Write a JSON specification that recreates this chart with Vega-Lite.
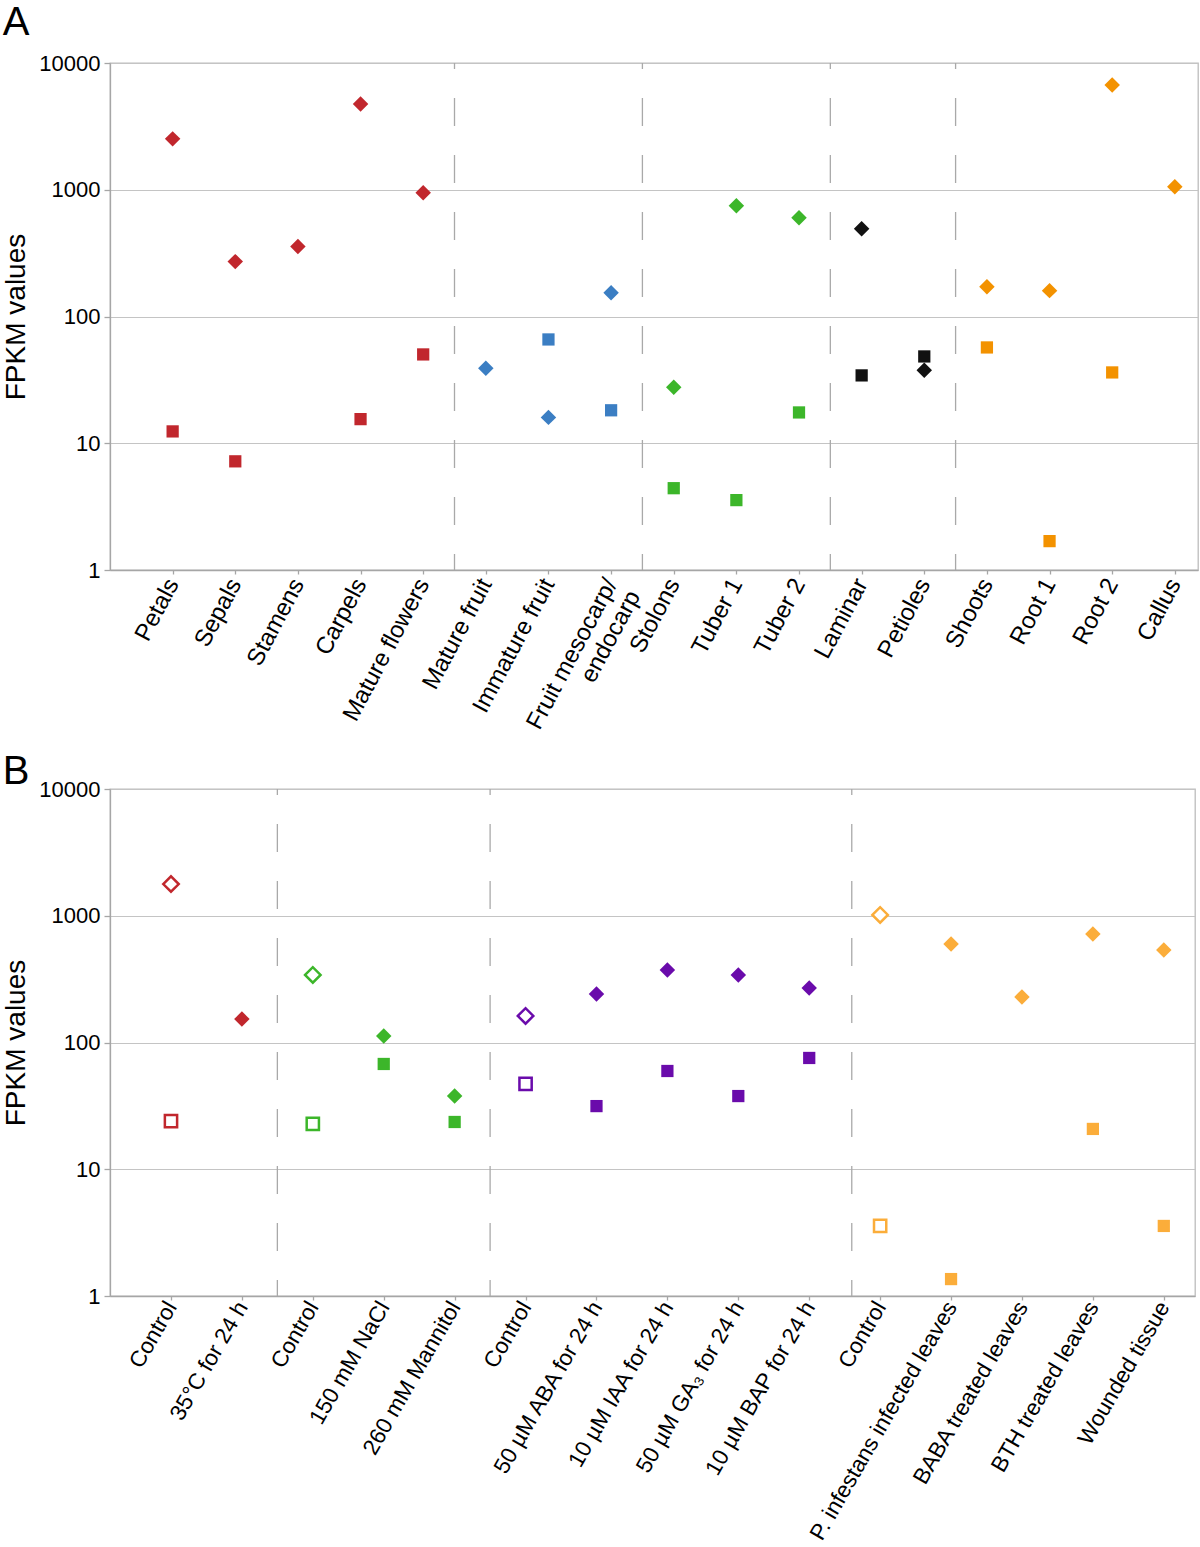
{
  "$schema": "https://vega.github.io/schema/vega-lite/v6.json",
  "background": "white",
  "padding": {"left": 2, "top": 2, "right": 0, "bottom": 0},
  "spacing": 5,
  "config": {
    "font": "Liberation Sans",
    "view": {"stroke": "#bdbdbd", "strokeWidth": 1.3},
    "axis": {
      "labelFont": "Liberation Sans", "titleFont": "Liberation Sans",
      "labelColor": "#000000", "titleColor": "#000000",
      "domainColor": "#a6a6a6", "tickColor": "#a6a6a6", "gridColor": "#c4c4c4",
      "domainWidth": 1.3, "tickWidth": 1.3, "gridWidth": 1.2
    },
    "title": {"font": "Liberation Sans", "fontSize": 40, "fontWeight": "normal", "anchor": "start", "frame": "bounds", "color": "#000000"}
  },
  "resolve": {"scale": {"x": "independent", "y": "independent", "color": "independent", "fill": "independent", "stroke": "independent", "shape": "independent", "size": "independent", "strokeWidth": "independent"}},
  "vconcat": [
    {
      "title": {"text": "A", "offset": 9},
      "width": 1088,
      "height": 507,
      "data": {"values": [
        {"pos": 1, "sample": "Petals", "tissue": "Flower", "series": "S1", "fpkm": 2520},
        {"pos": 1, "sample": "Petals", "tissue": "Flower", "series": "S2", "fpkm": 12.4},
        {"pos": 2, "sample": "Sepals", "tissue": "Flower", "series": "S1", "fpkm": 271},
        {"pos": 2, "sample": "Sepals", "tissue": "Flower", "series": "S2", "fpkm": 7.2},
        {"pos": 3, "sample": "Stamens", "tissue": "Flower", "series": "S1", "fpkm": 356},
        {"pos": 4, "sample": "Carpels", "tissue": "Flower", "series": "S1", "fpkm": 4755},
        {"pos": 4, "sample": "Carpels", "tissue": "Flower", "series": "S2", "fpkm": 15.5},
        {"pos": 5, "sample": "Mature flowers", "tissue": "Flower", "series": "S1", "fpkm": 947},
        {"pos": 5, "sample": "Mature flowers", "tissue": "Flower", "series": "S2", "fpkm": 50.2},
        {"pos": 6, "sample": "Mature fruit", "tissue": "Fruit", "series": "S1", "fpkm": 39},
        {"pos": 7, "sample": "Immature fruit", "tissue": "Fruit", "series": "S1", "fpkm": 16.0},
        {"pos": 7, "sample": "Immature fruit", "tissue": "Fruit", "series": "S2", "fpkm": 65.9},
        {"pos": 8, "sample": "Fruit mesocarp/endocarp", "tissue": "Fruit", "series": "S1", "fpkm": 154},
        {"pos": 8, "sample": "Fruit mesocarp/endocarp", "tissue": "Fruit", "series": "S2", "fpkm": 18.2},
        {"pos": 9, "sample": "Stolons", "tissue": "Tuber", "series": "S1", "fpkm": 27.6},
        {"pos": 9, "sample": "Stolons", "tissue": "Tuber", "series": "S2", "fpkm": 4.42},
        {"pos": 10, "sample": "Tuber 1", "tissue": "Tuber", "series": "S1", "fpkm": 748},
        {"pos": 10, "sample": "Tuber 1", "tissue": "Tuber", "series": "S2", "fpkm": 3.56},
        {"pos": 11, "sample": "Tuber 2", "tissue": "Tuber", "series": "S1", "fpkm": 602},
        {"pos": 11, "sample": "Tuber 2", "tissue": "Tuber", "series": "S2", "fpkm": 17.5},
        {"pos": 12, "sample": "Laminar", "tissue": "Leaf", "series": "S1", "fpkm": 493},
        {"pos": 12, "sample": "Laminar", "tissue": "Leaf", "series": "S2", "fpkm": 34.3},
        {"pos": 13, "sample": "Petioles", "tissue": "Leaf", "series": "S1", "fpkm": 37.6},
        {"pos": 13, "sample": "Petioles", "tissue": "Leaf", "series": "S2", "fpkm": 48.4},
        {"pos": 14, "sample": "Shoots", "tissue": "Root", "series": "S1", "fpkm": 172},
        {"pos": 14, "sample": "Shoots", "tissue": "Root", "series": "S2", "fpkm": 57},
        {"pos": 15, "sample": "Root 1", "tissue": "Root", "series": "S1", "fpkm": 160},
        {"pos": 15, "sample": "Root 1", "tissue": "Root", "series": "S2", "fpkm": 1.69},
        {"pos": 16, "sample": "Root 2", "tissue": "Root", "series": "S1", "fpkm": 6714},
        {"pos": 16, "sample": "Root 2", "tissue": "Root", "series": "S2", "fpkm": 36.2},
        {"pos": 17, "sample": "Callus", "tissue": "Root", "series": "S1", "fpkm": 1056}
      ]},
      "encoding": {
        "x": {
          "field": "pos", "type": "quantitative",
          "scale": {"domain": [0, 17.37], "nice": false, "zero": false},
          "axis": {
            "title": null, "grid": false,
            "values": [1, 2, 3, 4, 5, 6, 7, 8, 9, 10, 11, 12, 13, 14, 15, 16, 17],
            "labelExpr": "['Petals','Sepals','Stamens','Carpels','Mature flowers','Mature fruit','Immature fruit',['Fruit mesocarp/','endocarp'],'Stolons','Tuber 1','Tuber 2','Laminar','Petioles','Shoots','Root 1','Root 2','Callus'][datum.value - 1]",
            "labelAngle": -62, "labelAlign": "right", "labelBaseline": "middle", "labelLimit": 0,
            "labelFontSize": 24, "labelPadding": 6, "tickSize": 4, "labelOverlap": false, "labelBound": false, "labelFlush": false
          }
        }
      },
      "layer": [
        {
          "data": {"values": [{"pos": 5.5}, {"pos": 8.5}, {"pos": 11.5}, {"pos": 13.5}]},
          "mark": {"type": "rule", "color": "#a9a9a9", "strokeWidth": 1.3, "strokeDash": [28, 29], "strokeDashOffset": 22},
          "encoding": {
            "y": {
              "datum": 10000, "type": "quantitative",
              "scale": {"type": "log", "domain": [1, 10000], "nice": false},
              "axis": {"title": "FPKM values", "titleFontSize": 28, "titleFontWeight": "normal", "titlePadding": 8, "values": [1, 10, 100, 1000, 10000], "format": "d", "labelFontSize": 22, "labelPadding": 4, "tickSize": 6, "grid": true}
            },
            "y2": {"datum": 1}
          }
        },
        {
          "mark": {"type": "point", "filled": true, "opacity": 1},
          "encoding": {
            "y": {
              "field": "fpkm", "type": "quantitative",
              "scale": {"type": "log", "domain": [1, 10000], "nice": false},
              "axis": {"title": "FPKM values", "titleFontSize": 28, "titleFontWeight": "normal", "titlePadding": 8, "values": [1, 10, 100, 1000, 10000], "format": "d", "labelFontSize": 22, "labelPadding": 4, "tickSize": 6, "grid": true}
            },
            "shape": {"field": "series", "type": "nominal", "scale": {"domain": ["S1", "S2"], "range": ["diamond", "square"]}, "legend": null},
            "size": {"field": "series", "type": "nominal", "scale": {"domain": ["S1", "S2"], "range": [240, 150]}, "legend": null},
            "color": {"field": "tissue", "type": "nominal", "scale": {"domain": ["Flower", "Fruit", "Tuber", "Leaf", "Root"], "range": ["#c1272d", "#3b7ec3", "#3cb62a", "#111111", "#f39200"]}, "legend": null}
          }
        }
      ]
    },
    {
      "title": {"text": "B", "offset": -14},
      "width": 1085,
      "height": 507,
      "data": {"values": [
        {"pos": 1, "sample": "Control", "treatment": "Heat", "control": true, "series": "S1", "fpkm": 1780},
        {"pos": 1, "sample": "Control", "treatment": "Heat", "control": true, "series": "S2", "fpkm": 24},
        {"pos": 2, "sample": "35°C for 24 h", "treatment": "Heat", "control": false, "series": "S1", "fpkm": 153},
        {"pos": 3, "sample": "Control", "treatment": "Osmotic", "control": true, "series": "S1", "fpkm": 341},
        {"pos": 3, "sample": "Control", "treatment": "Osmotic", "control": true, "series": "S2", "fpkm": 22.8},
        {"pos": 4, "sample": "150 mM NaCl", "treatment": "Osmotic", "control": false, "series": "S1", "fpkm": 112.5},
        {"pos": 4, "sample": "150 mM NaCl", "treatment": "Osmotic", "control": false, "series": "S2", "fpkm": 67.7},
        {"pos": 5, "sample": "260 mM Mannitol", "treatment": "Osmotic", "control": false, "series": "S1", "fpkm": 37.8},
        {"pos": 5, "sample": "260 mM Mannitol", "treatment": "Osmotic", "control": false, "series": "S2", "fpkm": 23.6},
        {"pos": 6, "sample": "Control", "treatment": "Hormone", "control": true, "series": "S1", "fpkm": 162},
        {"pos": 6, "sample": "Control", "treatment": "Hormone", "control": true, "series": "S2", "fpkm": 47.1},
        {"pos": 7, "sample": "50 µM ABA for 24 h", "treatment": "Hormone", "control": false, "series": "S1", "fpkm": 241},
        {"pos": 7, "sample": "50 µM ABA for 24 h", "treatment": "Hormone", "control": false, "series": "S2", "fpkm": 31.5},
        {"pos": 8, "sample": "10 µM IAA for 24 h", "treatment": "Hormone", "control": false, "series": "S1", "fpkm": 373},
        {"pos": 8, "sample": "10 µM IAA for 24 h", "treatment": "Hormone", "control": false, "series": "S2", "fpkm": 59.6},
        {"pos": 9, "sample": "50 µM GA₃ for 24 h", "treatment": "Hormone", "control": false, "series": "S1", "fpkm": 341},
        {"pos": 9, "sample": "50 µM GA₃ for 24 h", "treatment": "Hormone", "control": false, "series": "S2", "fpkm": 37.8},
        {"pos": 10, "sample": "10 µM BAP for 24 h", "treatment": "Hormone", "control": false, "series": "S1", "fpkm": 269},
        {"pos": 10, "sample": "10 µM BAP for 24 h", "treatment": "Hormone", "control": false, "series": "S2", "fpkm": 75.5},
        {"pos": 11, "sample": "Control", "treatment": "Biotic", "control": true, "series": "S1", "fpkm": 1014},
        {"pos": 11, "sample": "Control", "treatment": "Biotic", "control": true, "series": "S2", "fpkm": 3.57},
        {"pos": 12, "sample": "P. infestans infected leaves", "treatment": "Biotic", "control": false, "series": "S1", "fpkm": 598},
        {"pos": 12, "sample": "P. infestans infected leaves", "treatment": "Biotic", "control": false, "series": "S2", "fpkm": 1.36},
        {"pos": 13, "sample": "BABA treated leaves", "treatment": "Biotic", "control": false, "series": "S1", "fpkm": 229},
        {"pos": 14, "sample": "BTH treated leaves", "treatment": "Biotic", "control": false, "series": "S1", "fpkm": 718},
        {"pos": 14, "sample": "BTH treated leaves", "treatment": "Biotic", "control": false, "series": "S2", "fpkm": 20.8},
        {"pos": 15, "sample": "Wounded tissue", "treatment": "Biotic", "control": false, "series": "S1", "fpkm": 537},
        {"pos": 15, "sample": "Wounded tissue", "treatment": "Biotic", "control": false, "series": "S2", "fpkm": 3.57}
      ]},
      "encoding": {
        "x": {
          "field": "pos", "type": "quantitative",
          "scale": {"domain": [0.14, 15.44], "nice": false, "zero": false},
          "axis": {
            "title": null, "grid": false,
            "values": [1, 2, 3, 4, 5, 6, 7, 8, 9, 10, 11, 12, 13, 14, 15],
            "labelExpr": "['Control','35°C for 24 h','Control','150 mM NaCl','260 mM Mannitol','Control','50 µM ABA for 24 h','10 µM IAA for 24 h','50 µM GA₃ for 24 h','10 µM BAP for 24 h','Control','P. infestans infected leaves','BABA treated leaves','BTH treated leaves','Wounded tissue'][datum.value - 1]",
            "labelAngle": -60, "labelAlign": "right", "labelBaseline": "middle", "labelLimit": 0,
            "labelFontSize": 22.5, "labelPadding": 3, "tickSize": 4, "labelOverlap": false, "labelBound": false, "labelFlush": false
          }
        }
      },
      "layer": [
        {
          "data": {"values": [{"pos": 2.5}, {"pos": 5.5}, {"pos": 10.6}]},
          "mark": {"type": "rule", "color": "#a9a9a9", "strokeWidth": 1.3, "strokeDash": [28, 29], "strokeDashOffset": 22},
          "encoding": {
            "y": {
              "datum": 10000, "type": "quantitative",
              "scale": {"type": "log", "domain": [1, 10000], "nice": false},
              "axis": {"title": "FPKM values", "titleFontSize": 28, "titleFontWeight": "normal", "titlePadding": 8, "values": [1, 10, 100, 1000, 10000], "format": "d", "labelFontSize": 22, "labelPadding": 4, "tickSize": 6, "grid": true}
            },
            "y2": {"datum": 1}
          }
        },
        {
          "mark": {"type": "point", "opacity": 1},
          "encoding": {
            "y": {
              "field": "fpkm", "type": "quantitative",
              "scale": {"type": "log", "domain": [1, 10000], "nice": false},
              "axis": {"title": "FPKM values", "titleFontSize": 28, "titleFontWeight": "normal", "titlePadding": 8, "values": [1, 10, 100, 1000, 10000], "format": "d", "labelFontSize": 22, "labelPadding": 4, "tickSize": 6, "grid": true}
            },
            "shape": {"field": "series", "type": "nominal", "scale": {"domain": ["S1", "S2"], "range": ["diamond", "square"]}, "legend": null},
            "size": {"field": "series", "type": "nominal", "scale": {"domain": ["S1", "S2"], "range": [240, 150]}, "legend": null},
            "fill": {
              "condition": {"test": "datum.control", "value": "#ffffff"},
              "field": "treatment", "type": "nominal",
              "scale": {"domain": ["Heat", "Osmotic", "Hormone", "Biotic"], "range": ["#c1272d", "#3cb62a", "#6a0bab", "#fbad3a"]},
              "legend": null
            },
            "stroke": {
              "field": "treatment", "type": "nominal",
              "scale": {"domain": ["Heat", "Osmotic", "Hormone", "Biotic"], "range": ["#c1272d", "#3cb62a", "#6a0bab", "#fbad3a"]},
              "legend": null
            },
            "strokeWidth": {"condition": {"test": "datum.control", "value": 2.5}, "value": 0}
          }
        }
      ]
    }
  ]
}
